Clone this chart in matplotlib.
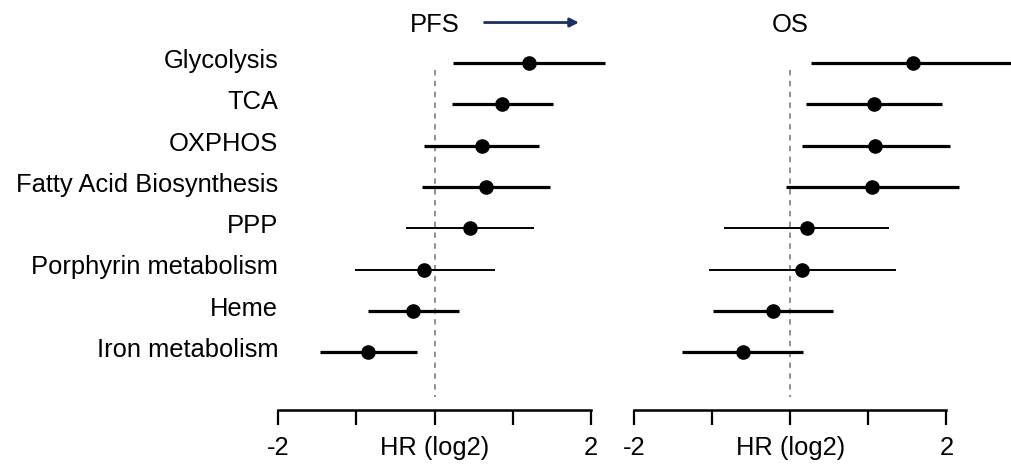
import numpy as np
import matplotlib.pyplot as plt

plt.rcParams['font.family'] = ['Liberation Sans', 'DejaVu Sans']

pathways = ['Glycolysis', 'TCA', 'OXPHOS', 'Fatty Acid Biosynthesis', 'PPP',
            'Porphyrin metabolism', 'Heme', 'Iron metabolism']

# log2 HR, lower and upper CI
pfs_hr = [1.21, 0.87, 0.61, 0.66, 0.46, -0.13, -0.27, -0.85]
pfs_lo = [0.24, 0.22, -0.13, -0.16, -0.36, -1.02, -0.85, -1.46]
pfs_hi = [2.18, 1.52, 1.34, 1.48, 1.27, 0.78, 0.32, -0.23]

os_hr = [1.57, 1.07, 1.09, 1.05, 0.22, 0.15, -0.22, -0.60]
os_lo = [0.26, 0.20, 0.15, -0.06, -0.85, -1.04, -0.99, -1.38]
os_hi = [2.90, 1.94, 2.04, 2.16, 1.27, 1.35, 0.55, 0.17]

line_w = [2.3, 2.3, 2.3, 2.3, 1.4, 1.4, 2.3, 2.3]

ticks = [-2, -1, 0, 1, 2]
tick_labels = ['-2', '', 'HR (log2)', '', '2']

fig = plt.figure(figsize=(10.11, 4.66), dpi=100)
W, H = 1011, 466
fs = 18.4

y = np.arange(len(pathways))
panels = [(278.3, 'PFS', pfs_hr, pfs_lo, pfs_hi),
          (634.0, 'OS', os_hr, os_lo, os_hi)]

for x0, title, hr, lo, hi in panels:
    ax = fig.add_axes([x0 / W, 1 - 410 / H, 312.4 / W, 370 / H])
    ax.set_xlim(-2, 2)
    ax.set_ylim(8.40, -0.557)
    for sp in ['top', 'right', 'left']:
        ax.spines[sp].set_visible(False)
    ax.spines['bottom'].set_linewidth(1.8)
    ax.set_yticks([])
    ax.set_xticks(ticks)
    ax.set_xticklabels(tick_labels, fontsize=fs)
    ax.tick_params(axis='x', length=11, width=1.6, pad=8, direction='out')
    ax.plot([0, 0], [0.17, 8.09], ls=(0, (3, 3)), color='#888888', lw=1.3)
    for i in range(len(pathways)):
        ax.plot([lo[i], hi[i]], [y[i], y[i]], color='black', lw=line_w[i],
                solid_capstyle='butt', clip_on=False)
        ax.plot(hr[i], y[i], 'o', color='black', ms=9.5, clip_on=False)
    ax.text(0, -0.92, title, ha='center', va='center', fontsize=fs,
            clip_on=False)
    if title == 'PFS':
        ax.annotate('', xy=(1.85, -0.98), xytext=(0.64, -0.98),
                    annotation_clip=False,
                    arrowprops=dict(arrowstyle='-|>', color='#1b2f66', lw=2,
                                    mutation_scale=13, shrinkA=0, shrinkB=0))
        for i, name in enumerate(pathways):
            ax.text(-2, y[i] - 0.05, name, ha='right', va='center',
                    fontsize=fs, clip_on=False)

fig.savefig('out.png', dpi=100)
